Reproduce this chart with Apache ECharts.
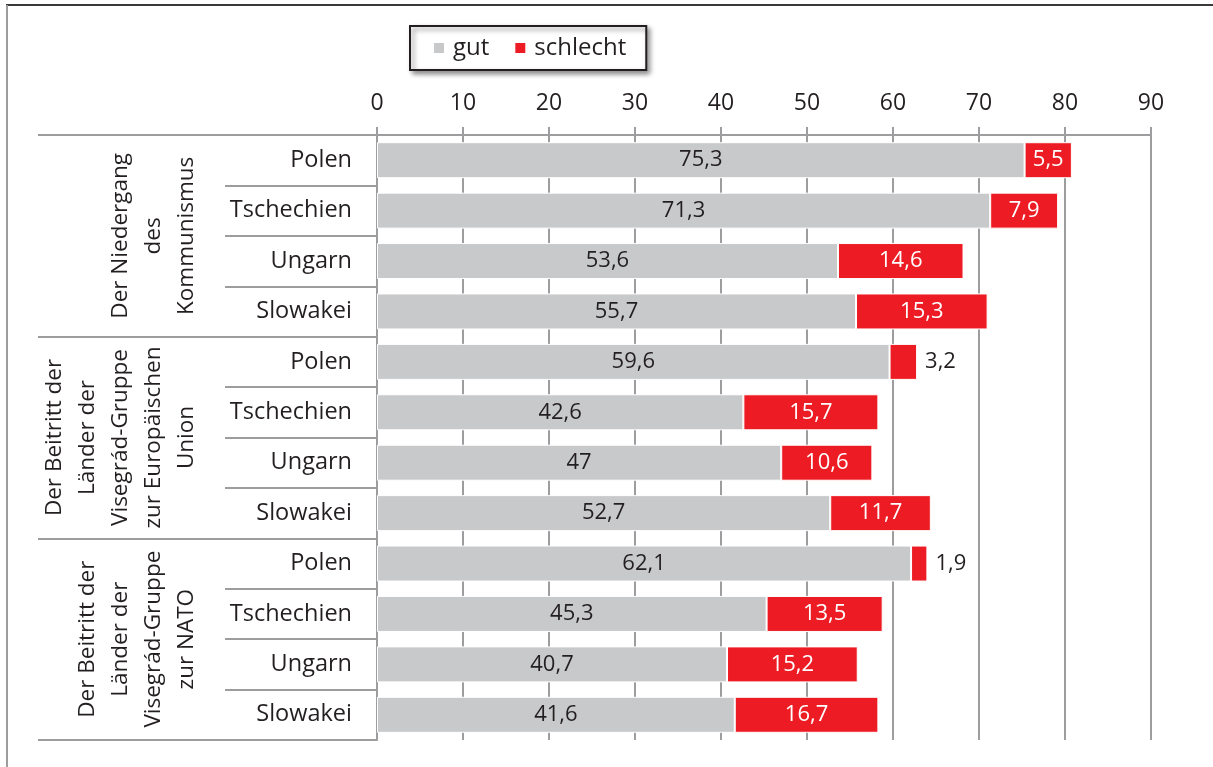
<!DOCTYPE html>
<html>
<head>
<meta charset="utf-8">
<title>Visegrád-Gruppe</title>
<script src="https://cdn.jsdelivr.net/npm/echarts@6/dist/echarts.min.js"></script>
<style>
  html, body { margin: 0; padding: 0; background: #fff; }
  #chart { width: 1213px; height: 767px; }
</style>
</head>
<body>
<div id="chart"></div>
<script>
// Daten
var countries = ["Polen", "Tschechien", "Ungarn", "Slowakei",
                 "Polen", "Tschechien", "Ungarn", "Slowakei",
                 "Polen", "Tschechien", "Ungarn", "Slowakei"];
var groups = ["Der Niedergang\ndes\nKommunismus",
              "Der Beitritt der\nLänder der\nVisegrád-Gruppe\nzur Europäischen\nUnion",
              "Der Beitritt der\nLänder der\nVisegrád-Gruppe\nzur NATO"];
var gut      = [75.3, 71.3, 53.6, 55.7, 59.6, 42.6, 47, 52.7, 62.1, 45.3, 40.7, 41.6];
var schlecht = [5.5, 7.9, 14.6, 15.3, 3.2, 15.7, 10.6, 11.7, 1.9, 13.5, 15.2, 16.7];

var FONT = '"Open Sans", "Noto Sans", sans-serif';
var TXT = "#231f20";
var GRID = "#9d9d9f";

function komma(p) {
  return String(p.value).replace(".", ",");
}

var myChart = echarts.init(document.getElementById("chart"));

var option = {
  animation: false,
  textStyle: { fontFamily: FONT },
  legend: {
    left: 410,
    top: 26,
    data: ["gut", "schlecht"],
    icon: "rect",
    itemWidth: 12,
    itemHeight: 12,
    itemGap: 24,
    padding: [9, 20, 9, 22],
    backgroundColor: "#fff",
    borderColor: "#231f20",
    borderWidth: 2,
    borderRadius: 0,
    shadowColor: "rgba(0,0,0,0.45)",
    shadowBlur: 5,
    shadowOffsetX: 3,
    shadowOffsetY: 3,
    textStyle: { fontFamily: FONT, fontSize: 24, color: TXT, lineHeight: 26, padding: [0, 0, 0, 3] }
  },
  grid: { left: 377, right: 62, top: 135, bottom: 27 },
  xAxis: {
    type: "value",
    position: "top",
    min: 0,
    max: 90,
    interval: 10,
    axisLine: { show: true, lineStyle: { color: GRID, width: 2 } },
    axisTick: { show: true, length: 8, lineStyle: { color: GRID, width: 2 } },
    splitLine: { show: true, lineStyle: { color: GRID, width: 2 } },
    axisLabel: { fontFamily: FONT, fontSize: 23, color: TXT, margin: 20 }
  },
  yAxis: [
    {
      type: "category",
      data: countries,
      inverse: true,
      axisLine: { show: true, lineStyle: { color: GRID, width: 2 } },
      axisTick: { show: true, length: 152, lineStyle: { color: GRID, width: 2 } },
      axisLabel: { interval: 0, fontFamily: FONT, fontSize: 23.5, color: TXT, margin: 25 }
    },
    {
      type: "category",
      data: groups,
      inverse: true,
      position: "left",
      axisLine: { show: false },
      axisTick: { show: true, length: 339, lineStyle: { color: GRID, width: 2 } },
      axisLabel: {
        interval: 0,
        rotate: 90,
        align: "center",
        verticalAlign: "bottom",
        margin: 174,
        fontFamily: FONT,
        fontSize: 22.5,
        lineHeight: 33,
        color: TXT
      }
    }
  ],
  series: [
    {
      name: "gut",
      type: "bar",
      stack: "all",
      yAxisIndex: 0,
      barWidth: 36,
      itemStyle: { color: "#c8c9cb", borderColor: "#fff", borderWidth: 1 },
      label: { show: true, position: "inside", color: TXT, fontFamily: FONT, fontSize: 22, formatter: komma },
      data: gut
    },
    {
      name: "schlecht",
      type: "bar",
      stack: "all",
      yAxisIndex: 0,
      barWidth: 36,
      itemStyle: { color: "#ed1c24", borderColor: "#fff", borderWidth: 1 },
      label: { show: true, position: "inside", color: "#fff", fontFamily: FONT, fontSize: 22, formatter: komma },
      // kleine Werte passen nicht in den Balken -> rechts daneben
      data: schlecht.map(function (v) {
        if (v < 5) {
          return { value: v, label: { position: "right", color: TXT, distance: 8 } };
        }
        return v;
      })
    }
  ],
  graphic: [
    { type: "line", shape: { x1: 6, y1: 5, x2: 1213, y2: 5 }, style: { stroke: "#3a3a3a", lineWidth: 2 } },
    { type: "line", shape: { x1: 7, y1: 5, x2: 7, y2: 767 }, style: { stroke: "#9d9d9f", lineWidth: 2 } }
  ]
};

option && myChart.setOption(option);
</script>
</body>
</html>
